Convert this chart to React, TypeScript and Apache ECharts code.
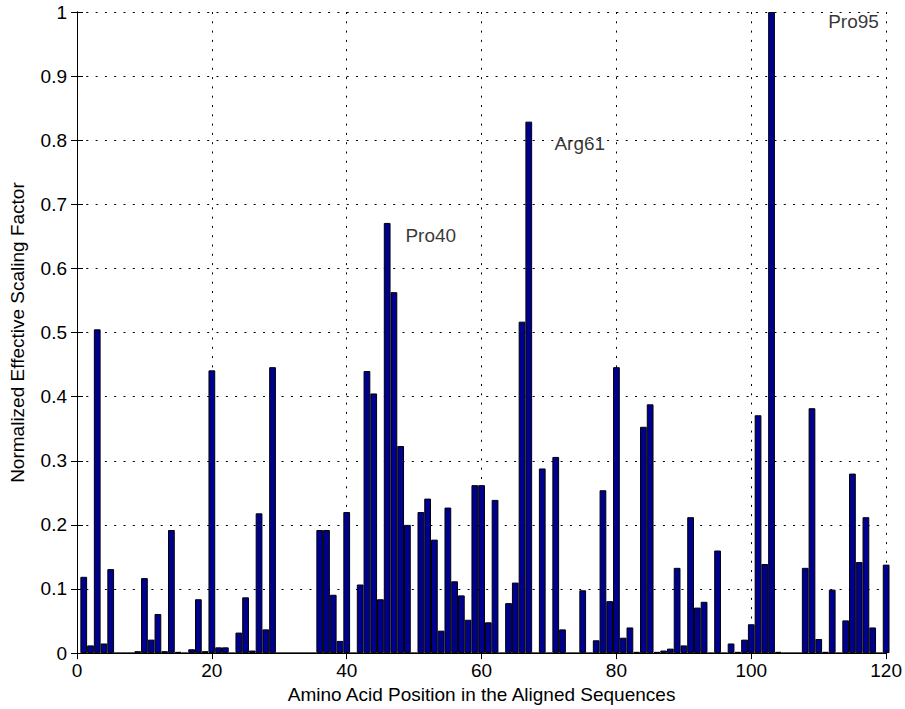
import React, { useEffect, useRef } from "react";
import * as echarts from "echarts";

const positions: number[] = Array.from({ length: 120 }, (_, i) => i + 1);

const values: number[] = [
  0.119, 0.012, 0.505, 0.015, 0.131, 0, 0, 0, 0.003, 0.117,
  0.021, 0.061, 0.003, 0.192, 0.002, 0, 0.006, 0.084, 0.003, 0.441,
  0.009, 0.009, 0, 0.032, 0.087, 0.004, 0.218, 0.037, 0.446, 0,
  0, 0, 0, 0, 0, 0.192, 0.192, 0.091, 0.019, 0.22,
  0, 0.107, 0.44, 0.405, 0.084, 0.671, 0.563, 0.323, 0.2, 0,
  0.22, 0.241, 0.177, 0.035, 0.227, 0.112, 0.09, 0.052, 0.262, 0.262,
  0.048, 0.239, 0, 0.078, 0.11, 0.517, 0.829, 0, 0.288, 0,
  0.306, 0.037, 0, 0, 0.098, 0, 0.02, 0.254, 0.081, 0.446,
  0.024, 0.04, 0.002, 0.353, 0.388, 0.002, 0.004, 0.007, 0.133, 0.012,
  0.212, 0.071, 0.08, 0, 0.16, 0, 0.015, 0.002, 0.021, 0.045,
  0.371, 0.139, 1.0, 0.002, 0, 0, 0, 0.133, 0.382, 0.022,
  0.002, 0.099, 0, 0.051, 0.28, 0.142, 0.212, 0.04, 0, 0.138,
];

const annotationLabels: string[] = ["Pro40", "Arg61", "Pro95"];
const annotationX: number[] = [48.7, 70.8, 111.4];
const annotationY: number[] = [0.652, 0.795, 0.985];

const xTicks = { min: 0, max: 120, interval: 20 };
const yTicks = { min: 0, max: 1, interval: 0.1 };

const xTitle = "Amino Acid Position in the Aligned Sequences";
const yTitle = "Normalized Effective Scaling Factor";

const FONT = "Liberation Sans, Arial, Helvetica, sans-serif";
const FS = 19;

export default function App() {
  const ref = useRef<HTMLDivElement>(null);

  useEffect(() => {
    if (!ref.current) return;
    const chart = echarts.init(ref.current, undefined, { renderer: "svg" });

    const dotted = { color: "#000", width: 1, type: [2, 7.3] as number[] };
    const axisLine = { show: true, lineStyle: { color: "#000", width: 1 } };
    const tick = { show: true, inside: true, length: 6, lineStyle: { color: "#000" } };
    const label = { color: "#000", fontSize: FS, fontFamily: FONT };

    chart.setOption({
      animation: false,
      backgroundColor: "#fff",
      grid: { left: 77, right: 18, top: 12, bottom: 54, containLabel: false },
      xAxis: [
        {
          type: "value",
          ...xTicks,
          position: "bottom",
          axisLine,
          axisTick: tick,
          axisLabel: { ...label, margin: 8 },
          splitLine: { show: true, lineStyle: dotted },
          name: xTitle,
          nameLocation: "middle",
          nameGap: 30,
          nameTextStyle: { color: "#000", fontSize: FS, fontFamily: FONT },
        },
        {
          type: "value",
          ...xTicks,
          position: "top",
          axisLine,
          axisTick: tick,
          axisLabel: { show: false },
          splitLine: { show: false },
        },
      ],
      yAxis: [
        {
          type: "value",
          ...yTicks,
          position: "left",
          axisLine,
          axisTick: tick,
          axisLabel: {
            ...label,
            margin: 10,
            formatter: (v: number) => String(Math.round(v * 10) / 10),
          },
          splitLine: { show: true, lineStyle: dotted },
          name: yTitle,
          nameLocation: "middle",
          nameGap: 50,
          nameTextStyle: { color: "#000", fontSize: FS, fontFamily: FONT },
        },
        {
          type: "value",
          ...yTicks,
          position: "right",
          axisLine,
          axisTick: tick,
          axisLabel: { show: false },
          splitLine: { show: false },
        },
      ],
      series: [
        {
          type: "bar",
          xAxisIndex: 0,
          yAxisIndex: 0,
          data: positions.map((p, i) => [p, values[i]]),
          barWidth: 6.75,
          clip: true,
          itemStyle: { color: "#00008f", borderColor: "#000", borderWidth: 1 },
        },
        {
          type: "scatter",
          xAxisIndex: 0,
          yAxisIndex: 0,
          symbolSize: 0,
          data: annotationLabels.map((t, i) => ({ value: [annotationX[i], annotationY[i]], name: t })),
          label: {
            show: true,
            position: "right",
            distance: 0,
            formatter: (p: any) => p.name,
            color: "#000",
            fontSize: FS,
            fontFamily: FONT,
          },
        },
      ],
    });

    return () => chart.dispose();
  }, []);

  return (
    <div
      ref={ref}
      style={{ position: "absolute", left: 0, top: 0, width: 905, height: 709 }}
    />
  );
}
